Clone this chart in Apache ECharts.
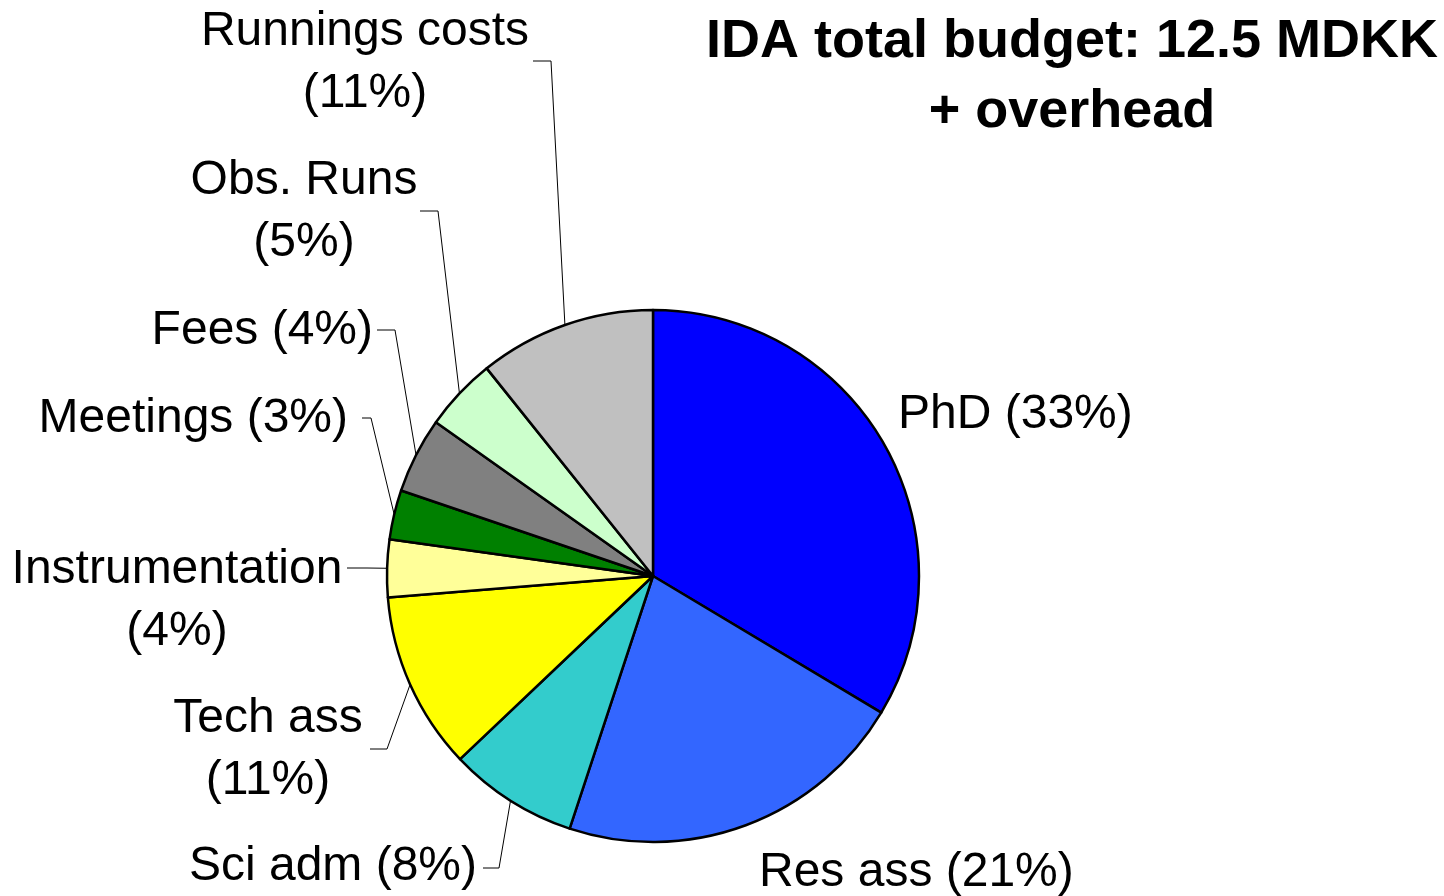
<!DOCTYPE html>
<html>
<head>
<meta charset="utf-8">
<script src="https://cdn.jsdelivr.net/npm/echarts@6/dist/echarts.min.js"></script>
<style>
html,body{margin:0;padding:0;background:#fff;}
#chart{width:1444px;height:896px;}
</style>
</head>
<body>
<div id="chart"></div>
<script>
const categories = ['PhD', 'Res ass', 'Sci adm', 'Tech ass', 'Instrumentation', 'Meetings', 'Fees', 'Obs. Runs', 'Runnings costs'];
const values = [33.6, 21.5, 7.85, 10.8, 3.5, 3.0, 4.6, 4.45, 10.75];
const labelTexts = ['PhD (33%)', 'Res ass (21%)', 'Sci adm (8%)', 'Tech ass\n(11%)', 'Instrumentation\n(4%)', 'Meetings (3%)', 'Fees (4%)', 'Obs. Runs\n(5%)', 'Runnings costs\n(11%)'];
const colors = ['#0000FF', '#3366FF', '#33CCCC', '#FFFF00', '#FFFF99', '#008000', '#808080', '#CCFFCC', '#C0C0C0'];

// label placement (layout only)
const labelPlace = [
  {x: 898, y: 415, align: 'left'},
  {x: 759, y: 873, align: 'left'},
  {x: 477, y: 867, align: 'right', elbow: [499, 868], end: [483, 868]},
  {x: 268, y: 750, align: 'center', elbow: [387, 749], end: [370, 749]},
  {x: 177, y: 601, align: 'center', elbow: [367, 568], end: [347, 568]},
  {x: 348, y: 419, align: 'right', elbow: [371, 418], end: [362, 418]},
  {x: 373, y: 331, align: 'right', elbow: [395, 330], end: [377, 330]},
  {x: 304, y: 212, align: 'center', elbow: [438, 211], end: [420, 211]},
  {x: 365, y: 63, align: 'center', elbow: [551, 61], end: [533, 61]}
];

const chart = echarts.init(document.getElementById('chart'), null, {renderer: 'canvas'});
const FONT = '"Liberation Sans", Arial, sans-serif';

chart.setOption({
  animation: false,
  backgroundColor: '#ffffff',
  title: {
    text: 'IDA total budget: 12.5 MDKK\n+ overhead',
    left: 1067,
    top: 2,
    textAlign: 'center',
    textStyle: {
      fontFamily: FONT,
      fontWeight: 'bold',
      fontSize: 54,
      lineHeight: 70,
      color: '#000'
    }
  },
  series: [{
    type: 'pie',
    center: [653, 576],
    radius: [0, 266],
    startAngle: 90,
    clockwise: true,
    avoidLabelOverlap: false,
    itemStyle: {borderColor: '#000', borderWidth: 2.5},
    emphasis: {disabled: true},
    label: {
      show: true,
      position: 'outside',
      fontFamily: FONT,
      fontSize: 48,
      lineHeight: 62,
      color: '#000',
      formatter: p => labelTexts[p.dataIndex]
    },
    labelLine: {show: true, lineStyle: {color: '#000', width: 1}},
    labelLayout: function (params) {
      const pl = labelPlace[params.dataIndex];
      const res = {x: pl.x, y: pl.y, align: pl.align, verticalAlign: 'middle'};
      if (pl.elbow && params.labelLinePoints) {
        res.labelLinePoints = [params.labelLinePoints[0], pl.elbow, pl.end];
      }
      return res;
    },
    data: categories.map((c, i) => ({
      name: c,
      value: values[i],
      itemStyle: {color: colors[i]},
      labelLine: {show: !!labelPlace[i].elbow}
    }))
  }]
});
</script>
</body>
</html>
